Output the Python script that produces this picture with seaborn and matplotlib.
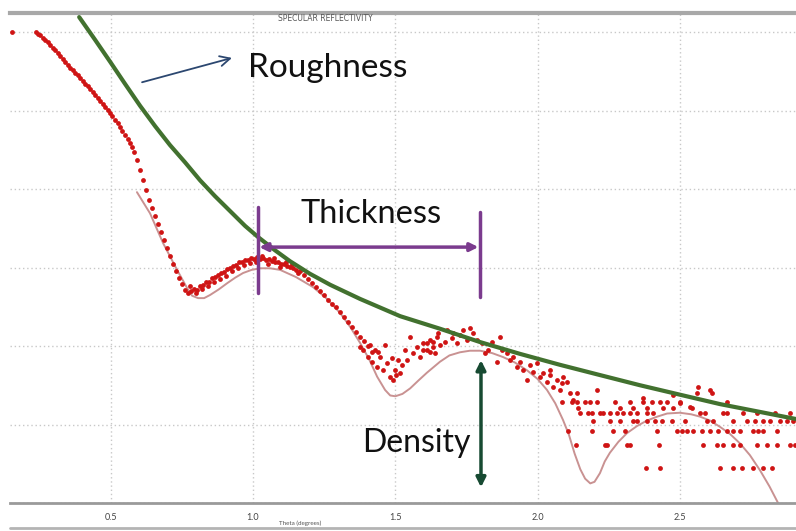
import pandas as pd
import matplotlib
matplotlib.use("Agg")
import matplotlib.pyplot as plt
from matplotlib.lines import Line2D
import seaborn as sns

# measured specular reflectivity: (theta in degrees, log10 of reflectivity)
lone_pts = [(0.153, 0.00)]

edge_pts = [
    (0.237, 0.00), (0.245, -0.02), (0.252, -0.04), (0.261, -0.07), (0.269, -0.10),
    (0.278, -0.13), (0.287, -0.17), (0.296, -0.20), (0.304, -0.23), (0.313, -0.27),
    (0.322, -0.31), (0.331, -0.34), (0.339, -0.38), (0.348, -0.42), (0.357, -0.46),
    (0.366, -0.49), (0.375, -0.52), (0.384, -0.55), (0.392, -0.59), (0.401, -0.62),
    (0.410, -0.66), (0.419, -0.69), (0.427, -0.73), (0.436, -0.76), (0.445, -0.80),
    (0.454, -0.84), (0.462, -0.88), (0.471, -0.92), (0.480, -0.96), (0.489, -0.99),
    (0.498, -1.03), (0.506, -1.07), (0.515, -1.12), (0.524, -1.16), (0.533, -1.21),
    (0.541, -1.26), (0.550, -1.31), (0.559, -1.36), (0.568, -1.41), (0.575, -1.47),
    (0.582, -1.53), (0.592, -1.63), (0.603, -1.76), (0.613, -1.89), (0.624, -2.01),
    (0.635, -2.14), (0.645, -2.24), (0.656, -2.34), (0.666, -2.45), (0.677, -2.55),
    (0.687, -2.65), (0.698, -2.75), (0.708, -2.85), (0.719, -2.96), (0.729, -3.04),
    (0.740, -3.13), (0.751, -3.21), (0.761, -3.29), (0.772, -3.32),
]

bump_pts = [
    (0.782, -3.30), (0.793, -3.27), (0.803, -3.29), (0.814, -3.23), (0.824, -3.22),
    (0.835, -3.18), (0.845, -3.18), (0.856, -3.13), (0.866, -3.12), (0.877, -3.10),
    (0.888, -3.07), (0.898, -3.06), (0.909, -3.02), (0.919, -3.01), (0.930, -2.98),
    (0.940, -2.97), (0.951, -2.93), (0.961, -2.93), (0.972, -2.90), (0.982, -2.90),
    (0.993, -2.88), (1.004, -2.89), (1.014, -2.87), (1.025, -2.89), (1.035, -2.88),
    (1.046, -2.90), (1.056, -2.89), (1.067, -2.92), (1.077, -2.93), (1.088, -2.93),
    (1.098, -2.96), (1.109, -2.96), (1.119, -2.98), (1.130, -2.99), (1.141, -3.01),
    (1.151, -3.03),
    (0.779, -3.24), (0.800, -3.32), (0.821, -3.27), (0.842, -3.23), (0.863, -3.18),
    (0.884, -3.15), (0.905, -3.11), (0.926, -3.04), (0.947, -3.01), (0.968, -2.97),
    (0.989, -2.94), (1.011, -2.93), (1.032, -2.85), (1.053, -2.96), (1.074, -2.88),
    (1.095, -2.99), (1.116, -2.93), (1.137, -2.96), (1.158, -3.07),
]

fall_pts = [
    (1.165, -3.04), (1.179, -3.10), (1.193, -3.15), (1.207, -3.20), (1.221, -3.25),
    (1.235, -3.30), (1.250, -3.35), (1.264, -3.41), (1.278, -3.46), (1.292, -3.50),
    (1.306, -3.57), (1.320, -3.63), (1.334, -3.69), (1.348, -3.76), (1.362, -3.82),
    (1.376, -3.89), (1.390, -3.94), (1.404, -4.00), (1.418, -4.08),
]

scatter_pts = [
    (1.376, -4.01), (1.387, -4.05), (1.404, -4.14), (1.418, -4.20), (1.429, -4.05),
    (1.436, -4.27), (1.446, -4.14), (1.457, -4.31), (1.471, -4.22), (1.481, -4.39),
    (1.492, -4.43), (1.499, -4.31), (1.510, -4.18), (1.517, -4.34), (1.534, -4.05),
    (1.541, -4.18), (1.552, -3.89), (1.562, -4.09), (1.576, -4.01), (1.587, -4.14),
    (1.597, -3.96), (1.611, -4.05), (1.622, -3.92), (1.633, -4.01), (1.647, -3.89),
    (1.411, -3.99), (1.439, -4.08), (1.464, -3.99), (1.488, -4.15), (1.524, -4.24),
    (1.503, -4.37),
    (1.597, -4.05), (1.611, -3.96), (1.622, -4.08), (1.633, -3.95), (1.640, -4.09),
    (1.650, -3.83), (1.657, -3.99), (1.675, -3.95), (1.682, -3.80), (1.699, -3.90),
    (1.703, -3.83), (1.717, -3.96), (1.727, -3.86), (1.738, -3.80), (1.752, -3.92),
    (1.763, -3.77), (1.773, -3.83), (1.787, -3.92), (1.805, -3.96), (1.815, -4.09),
    (1.826, -4.05), (1.840, -3.95), (1.857, -4.20), (1.868, -3.89), (1.875, -4.05),
    (1.893, -4.09), (1.903, -4.18), (1.914, -4.14), (1.928, -4.27), (1.938, -4.20),
    (1.949, -4.31), (1.963, -4.43), (1.973, -4.24), (1.984, -4.33), (1.998, -4.22),
    (2.009, -4.39), (2.019, -4.34), (2.033, -4.46), (2.044, -4.37), (2.054, -4.52),
    (2.068, -4.43), (2.079, -4.56), (2.089, -4.39), (2.103, -4.46), (2.114, -4.60),
    (2.124, -4.69), (2.139, -4.60), (2.044, -4.31), (2.086, -4.47),
]

tail_pts = [
    (2.086, -4.71), (2.121, -4.71), (2.139, -4.71), (2.167, -4.71), (2.184, -4.71),
    (2.209, -4.71), (2.272, -4.71), (2.325, -4.71), (2.371, -4.71), (2.430, -4.71),
    (2.455, -4.71), (2.501, -4.71),
    (2.142, -4.79), (2.290, -4.79), (2.335, -4.79), (2.384, -4.79), (2.441, -4.79),
    (2.476, -4.79), (2.543, -4.79),
    (2.149, -4.85), (2.177, -4.85), (2.191, -4.85), (2.219, -4.85), (2.230, -4.85),
    (2.255, -4.85), (2.279, -4.85), (2.300, -4.85), (2.325, -4.85), (2.349, -4.85),
    (2.384, -4.85), (2.406, -4.85), (2.571, -4.85), (2.588, -4.85), (2.652, -4.85),
    (2.666, -4.85), (2.722, -4.85), (2.771, -4.85), (2.834, -4.85), (2.887, -4.85),
    (2.195, -4.96), (2.255, -4.96), (2.290, -4.96), (2.335, -4.96), (2.349, -4.96),
    (2.384, -4.96), (2.413, -4.96), (2.437, -4.96), (2.472, -4.96), (2.518, -4.96),
    (2.595, -4.96), (2.616, -4.96), (2.687, -4.96), (2.736, -4.96), (2.764, -4.96),
    (2.792, -4.96), (2.817, -4.96), (2.852, -4.96), (2.877, -4.96), (2.898, -4.96),
    (2.107, -5.08), (2.191, -5.08), (2.265, -5.08), (2.307, -5.08), (2.420, -5.08),
    (2.490, -5.08), (2.508, -5.08), (2.525, -5.08), (2.546, -5.08), (2.578, -5.08),
    (2.606, -5.08), (2.634, -5.08), (2.666, -5.08), (2.687, -5.08), (2.711, -5.08),
    (2.757, -5.08), (2.775, -5.08), (2.792, -5.08), (2.841, -5.08),
    (2.135, -5.26), (2.237, -5.26), (2.244, -5.26), (2.314, -5.26), (2.325, -5.26),
    (2.427, -5.26), (2.581, -5.26), (2.630, -5.26), (2.652, -5.26), (2.687, -5.26),
    (2.711, -5.26), (2.771, -5.26), (2.806, -5.26), (2.841, -5.26), (2.887, -5.26),
    (2.905, -5.26),
    (2.381, -5.55), (2.430, -5.55), (2.641, -5.55), (2.687, -5.55), (2.718, -5.55),
    (2.757, -5.55), (2.792, -5.55), (2.824, -5.55),
    (2.564, -4.52), (2.560, -4.60), (2.606, -4.56), (2.613, -4.60), (2.666, -4.71),
    (2.476, -4.62), (2.501, -4.73), (2.536, -4.78), (2.371, -4.66), (2.402, -4.71),
    (2.209, -4.56),
]

# simulated fit curve
fit_theta = [0.592, 0.638, 0.684, 0.733, 0.768, 0.786, 0.807, 0.828, 0.849, 0.879,
             0.909, 0.937, 0.965, 0.995, 1.025, 1.060, 1.095, 1.150, 1.211, 1.260,
             1.306, 1.342, 1.376, 1.408, 1.436, 1.464, 1.482, 1.500, 1.525, 1.552,
             1.581, 1.611, 1.657, 1.690, 1.727, 1.762, 1.798, 1.840, 1.878, 1.920,
             1.963, 2.000, 2.033, 2.062, 2.089, 2.110, 2.130, 2.150, 2.167, 2.185,
             2.200, 2.219, 2.236, 2.254, 2.284, 2.314, 2.349, 2.384, 2.420, 2.455,
             2.500, 2.540, 2.571, 2.606, 2.641, 2.676, 2.711, 2.746, 2.781, 2.815,
             2.845]
fit_logr = [-2.04, -2.31, -2.69, -3.03, -3.26, -3.36, -3.39, -3.39, -3.35, -3.28,
            -3.20, -3.13, -3.07, -3.03, -3.01, -3.01, -3.03, -3.12, -3.25, -3.40,
            -3.58, -3.76, -3.96, -4.17, -4.39, -4.56, -4.63, -4.64, -4.61, -4.54,
            -4.44, -4.34, -4.20, -4.12, -4.08, -4.06, -4.06, -4.09, -4.14, -4.21,
            -4.31, -4.42, -4.56, -4.73, -4.94, -5.13, -5.37, -5.57, -5.69, -5.75,
            -5.73, -5.62, -5.47, -5.36, -5.22, -5.11, -5.02, -4.95, -4.90, -4.86,
            -4.85, -4.87, -4.90, -4.95, -5.03, -5.12, -5.24, -5.39, -5.58, -5.79,
            -6.00]

# roughness envelope
env_theta = [0.389, 0.445, 0.498, 0.550, 0.603, 0.656, 0.708, 0.761, 0.814, 0.866,
             0.919, 0.972, 1.017, 1.077, 1.130, 1.200, 1.271, 1.376, 1.517, 1.657,
             1.798, 1.938, 2.079, 2.219, 2.360, 2.500, 2.641, 2.782, 2.908]
env_logr = [0.19, -0.10, -0.38, -0.66, -0.94, -1.20, -1.44, -1.66, -1.89, -2.09,
            -2.28, -2.47, -2.61, -2.78, -2.92, -3.08, -3.22, -3.40, -3.62, -3.78,
            -3.95, -4.10, -4.24, -4.37, -4.50, -4.62, -4.74, -4.84, -4.93]

xticks = [0.5, 1.0, 1.5, 2.0, 2.5]
xtick_labels = ["0.5", "1.0", "1.5", "2.0", "2.5"]

sns.set_style("white")
plt.rcParams['font.family'] = ['Lato', 'DejaVu Sans']

fig = plt.figure(figsize=(7.96, 5.31), dpi=100)
ax = fig.add_axes([0.0126, 0.0527, 0.9874, 0.9228])

meas = pd.DataFrame(lone_pts + edge_pts + bump_pts + fall_pts + scatter_pts + tail_pts,
                    columns=["theta", "logr"])

sns.lineplot(x=fit_theta, y=fit_logr, color="#c99292", lw=1.4,
             estimator=None, sort=False, ax=ax, zorder=2)
sns.scatterplot(data=meas, x="theta", y="logr", color="#cf1414", s=12,
                linewidth=0, ax=ax, zorder=3)
sns.lineplot(x=env_theta, y=env_logr, color="#42712f", lw=3,
             estimator=None, sort=False, ax=ax, zorder=4)

ax.set_xlim(0.146, 2.908)
ax.set_ylim(-6.0, 0.242)
ax.set_xticks(xticks)
ax.set_xticklabels(xtick_labels, fontsize=6.5, color="#444444")
ax.set_yticks(range(-6, 1))
ax.set_yticklabels([])
ax.tick_params(axis="y", length=0)
ax.tick_params(axis="x", direction="inout", length=4, color="#999999", pad=5)
ax.set_axisbelow(True)
ax.grid(True, ls=(0, (1, 2)), color="#c8c8c8", lw=1)
ax.set_ylabel("")
ax.set_xlabel("Theta (degrees)", fontsize=4.5, color="#555555")
ax.xaxis.set_label_coords(0.369, -0.036)
for side in ["left", "right"]:
    ax.spines[side].set_visible(False)
ax.spines["top"].set_color("#a8a8a8")
ax.spines["top"].set_linewidth(3)
ax.spines["bottom"].set_color("#9a9a9a")
ax.spines["bottom"].set_linewidth(2)

ax.text(1.253, 0.17, "SPECULAR REFLECTIVITY", fontsize=5.5, color="#555555",
        ha="center", va="center", family="DejaVu Sans")

# annotations
ax.text(0.982, -0.57, "Roughness", fontsize=24, color="#111111", va="baseline")
ax.annotate("", xy=(0.926, -0.33), xytext=(0.610, -0.64),
            arrowprops=dict(arrowstyle="->", color="#2c4770", lw=1.3,
                            mutation_scale=18, shrinkA=0, shrinkB=0))

purple = "#7b3b8e"
ax.text(1.165, -2.43, "Thickness", fontsize=23.5, color="#111111", va="baseline")
ax.plot([1.017, 1.017], [-2.23, -3.32], color=purple, lw=2.5, zorder=5)
ax.plot([1.798, 1.798], [-2.29, -3.38], color=purple, lw=2.5, zorder=5)
ax.annotate("", xy=(1.792, -2.74), xytext=(1.022, -2.74),
            arrowprops=dict(arrowstyle="<|-|>", color=purple, lw=2.5,
                            mutation_scale=12, shrinkA=0, shrinkB=0), zorder=5)

ax.text(1.383, -5.35, "Density", fontsize=23, color="#111111", va="baseline")
ax.annotate("", xy=(1.801, -4.18), xytext=(1.801, -5.80),
            arrowprops=dict(arrowstyle="<|-|>", color="#174a32", lw=2.5,
                            mutation_scale=14, shrinkA=0, shrinkB=0), zorder=5)

fig.add_artist(Line2D([0.012, 1.0], [0.006, 0.006], color="#b4b4b4", lw=2))

fig.savefig("out.png", dpi=100)
